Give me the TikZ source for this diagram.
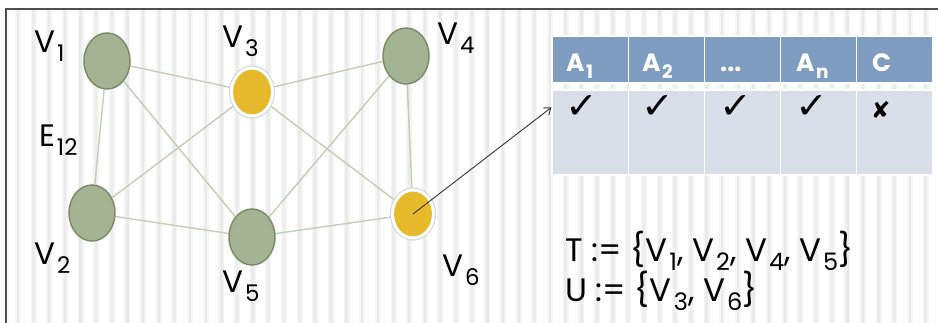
\documentclass[tikz,border=0pt]{standalone}
\usepackage{fontspec}
\setmainfont{Poppins}
\newfontfamily\symfont{DejaVu Sans}
\usetikzlibrary{shapes.geometric,shadows,arrows.meta,calc}
\definecolor{gfill}{HTML}{A4B492}
\definecolor{gdraw}{HTML}{7B8D68}
\definecolor{yfill}{HTML}{E6BA2A}
\definecolor{edgec}{HTML}{C2CFB4}
\definecolor{hdr}{HTML}{7F9DC1}
\definecolor{bodyc}{HTML}{D8DFE8}
\definecolor{stripeA}{HTML}{F4F4F4}
\definecolor{stripeB}{HTML}{EBEBEB}
\definecolor{framec}{HTML}{505050}
\newcommand\sbx[1]{\kern0.06em\raisebox{-0.27em}{\scalebox{0.74}{#1}}}
\newcommand\ckm{\scalebox{2.8}[2.6]{✓}}
\pgfdeclarelayer{stripes}
\pgfdeclarelayer{edges}
\pgfsetlayers{stripes,edges,main}
\begin{document}
\begin{tikzpicture}[x=1pt,y=-1pt,
  gnode/.style={ellipse,fill=gfill,draw=gdraw,line width=1.5pt,minimum width=46pt,minimum height=56pt,inner sep=0pt},
  ynode/.style={ellipse,fill=yfill,inner sep=0pt,minimum width=41pt,minimum height=48pt,
     drop shadow={shadow xshift=0.5pt,shadow yshift=-2.5pt,opacity=0.2},
     preaction={draw=gray!35,line width=5pt},
     draw=white,line width=3pt},
  lbl/.style={anchor=base west,inner sep=0pt,font=\fontsize{31}{34}\selectfont,text=black},
  gedge/.style={draw=edgec,line width=1.4pt},
  hcell/.style={rectangle,fill=hdr,draw=white,line width=1.2pt,minimum width=76.2pt,minimum height=47pt,inner sep=0pt},
  bcell/.style={rectangle,fill=bodyc,draw=white,line width=1.2pt,minimum width=76.2pt,minimum height=85pt,inner sep=0pt},
  htext/.style={anchor=base west,inner sep=0pt,text=white,font=\bfseries\fontsize{25}{28}\selectfont},
  marktxt/.style={anchor=base west,inner sep=0pt,font=\symfont\fontsize{14}{16}\selectfont},
  settext/.style={anchor=base west,inner sep=0pt,font=\fontsize{32.5}{36}\selectfont}
]
\useasboundingbox (0,0) rectangle (938,323);
\begin{pgfonlayer}{stripes}
  \fill[white] (0,0) rectangle (938,323);
  \foreach \k in {0,...,59}{
    \pgfmathsetmacro\cx{2.25+\k*15.65}
    \fill[stripeA] (\cx-3,10) rectangle (\cx+3,323);
    \fill[stripeB] (\cx-1.2,10) rectangle (\cx+1.2,323);
  }
  \fill[white] (0,0) rectangle (6,323);
  \fill[white] (0,0) rectangle (938,9);
\end{pgfonlayer}
\draw[framec,line width=1.2pt] (938,9) -- (6,9) -- (6,323);

% graph nodes
\node[gnode] (v1) at (107,61) {};
\node[ynode] (v3) at (252,92) {};
\node[gnode] (v4) at (406,56) {};
\node[gnode] (v2) at (92,213) {};
\node[gnode] (v5) at (252,237) {};
\node[ynode] (v6) at (413,214) {};

\begin{pgfonlayer}{edges}
  \draw[gedge] (v1) -- (v3);
  \draw[gedge] (v3) -- (v4);
  \draw[gedge] (v1) -- (v2);
  \draw[gedge] (v1) -- (v5);
  \draw[gedge] (v3) -- (v2);
  \draw[gedge] (v3) -- (v6);
  \draw[gedge] (v4) -- (v5);
  \draw[gedge] (v4) -- (v6);
  \draw[gedge] (v2) -- (v5);
  \draw[gedge] (v5) -- (v6);
\end{pgfonlayer}

% labels
\node[lbl] (l1) at (34,53) {V\sbx{1}};
\node[lbl] (l3) at (222,48) {V\sbx{3}};
\node[lbl] (l4) at (437,45) {V\sbx{4}};
\node[lbl] (le) at (39,147) {E\sbx{12}};
\node[lbl] (l2) at (34,265) {V\sbx{2}};
\node[lbl] (l5) at (222,293) {V\sbx{5}};
\node[lbl] (l6) at (442,277) {V\sbx{6}};

% table
\node[hcell] (h1) at (590.1,59.5) {};
\node[hcell] (h2) at (666.3,59.5) {};
\node[hcell] (h3) at (742.5,59.5) {};
\node[hcell] (h4) at (818.7,59.5) {};
\node[hcell] (h5) at (894.9,59.5) {};
\node[bcell] (b1) at (590.1,132.5) {};
\node[bcell] (b2) at (666.3,132.5) {};
\node[bcell] (b3) at (742.5,132.5) {};
\node[bcell] (b4) at (818.7,132.5) {};
\node[bcell] (b5) at (894.9,132.5) {};

\node[htext] (t1) at (566,72) {A\sbx{1}};
\node[htext] (t2) at (642,72) {A\sbx{2}};
\node[htext] (t3) at (720,72) {...};
\node[htext] (t4) at (796,72) {A\sbx{n}};
\node[htext] (t5) at (872,72) {C};

\node[marktxt] (m1) at (565,119) {\ckm};
\node[marktxt] (m2) at (641,119) {\ckm};
\node[marktxt] (m3) at (719,119) {\ckm};
\node[marktxt] (m4) at (795,119) {\ckm};
\node[marktxt,font=\symfont\bfseries\fontsize{23}{25}\selectfont] (m5) at (871,119) {✘};

% arrow
\draw[line width=0.9pt,black!80,-{Straight Barb[length=6pt,width=9pt]}] (v6.center) -- ($(b1.north west)+(0,18)$);

% sets
\node[settext] (ts) at (565,262) {T := \{V\sbx{1}, V\sbx{2}, V\sbx{4}, V\sbx{5}\}};
\node[settext] (us) at (565,302) {U := \{V\sbx{3}, V\sbx{6}\}};
\end{tikzpicture}
\end{document}
